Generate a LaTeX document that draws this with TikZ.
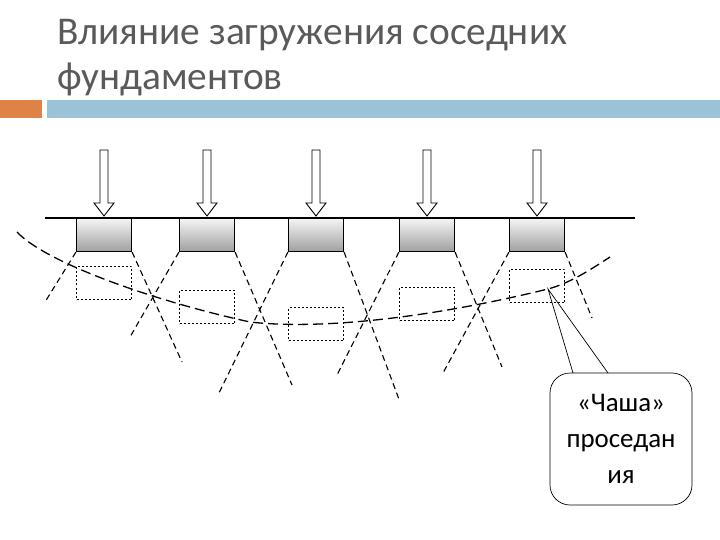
\documentclass[tikz,border=0pt]{standalone}
\usepackage{fontspec}
\setmainfont{Carlito}
\definecolor{barblue}{RGB}{155,195,215}
\definecolor{barorange}{RGB}{222,130,70}
\definecolor{titlegray}{RGB}{90,90,90}
\begin{document}
\begin{tikzpicture}[x=1bp,y=-1bp,
  fdn/.style={draw,line width=1.2bp,top color=gray!8,bottom color=gray!75,minimum width=55bp,minimum height=33bp,inner sep=0pt},
  zone/.style={draw,line width=1.6bp,dash pattern=on 2bp off 2bp,minimum width=55bp,minimum height=33bp,inner sep=0pt},
  rays/.style={line width=1.1bp,dash pattern=on 6bp off 4bp},
  bowl/.style={line width=1.3bp,dash pattern=on 10bp off 5bp},
  load/.style={draw,line width=0.9bp,fill=white}]
\useasboundingbox (0,0) rectangle (720,540);
\node[anchor=base west,inner sep=0pt,text=titlegray,font=\fontsize{39.5}{44}\selectfont] (t1) at (57,45) {Влияние загружения соседних};
\node[anchor=base west,inner sep=0pt,text=titlegray,font=\fontsize{39.5}{44}\selectfont] (t2) at (57,90) {фундаментов};
\fill[barorange] (0,100) rectangle (42,118);
\fill[barblue] (47,100) rectangle (720,118);
\coordinate (gl) at (45,218); \coordinate (gr) at (635,218);
\draw[line width=1.2bp] (gl) -- (gr);
\foreach \i/\x/\zy in {1/104/283,2/207/307,3/316/324,4/427/304,5/537/286}{
  \node[fdn] (f\i) at (\x,235) {};
  \node[zone] (z\i) at (\x,\zy) {};
  \draw[load] (\x-4,150) -- (\x+4,150) -- (\x+4,203) -- (\x+10,203) -- (\x,216) -- (\x-10,203) -- (\x-4,203) -- cycle;
}
\coordinate (e1l) at (45,302); \coordinate (e1r) at (182,362);
\coordinate (e2l) at (130,337); \coordinate (e2r) at (292,385);
\coordinate (e3l) at (218,395); \coordinate (e3r) at (400,402);
\coordinate (e4l) at (337,375); \coordinate (e4r) at (502,367);
\coordinate (e5l) at (443,373); \coordinate (e5r) at (592,318);
\foreach \i in {1,...,5}{
  \draw[rays] (f\i.south west) -- (e\i l);
  \draw[rays] (f\i.south east) -- (e\i r);
}
\coordinate (b0) at (17,232); \coordinate (tip) at (548,289); \coordinate (b9) at (610,257);
\draw[bowl] (b0) .. controls (45,262) and (150,300) .. (250,322)
  .. controls (320,330) and (430,318) .. (tip) .. controls (570,283) and (590,270) .. (b9);
\node[draw,rounded corners=20bp,minimum width=142bp,minimum height=132bp,align=center,font=\fontsize{27}{36}\selectfont,line width=0.7bp,inner sep=0pt] (call) at (621,439) {«Чаша»\\проседан\\ия};
\coordinate (p1) at (573,373); \coordinate (p2) at (608,373);
\draw[line width=0.7bp] (p1) -- (tip) -- (p2);
\end{tikzpicture}
\end{document}
